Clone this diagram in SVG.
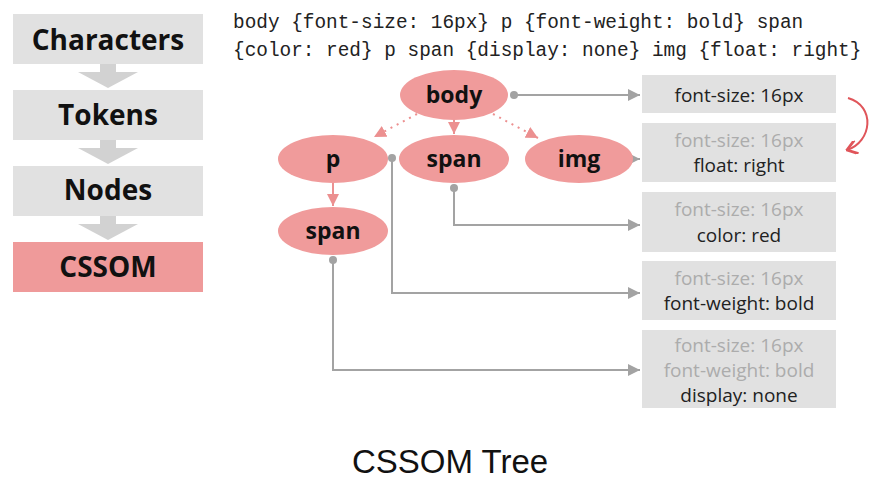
<svg xmlns="http://www.w3.org/2000/svg" width="893" height="501" viewBox="0 0 893 501">
<defs>
<marker id="ga" viewBox="0 0 10 10" refX="10" refY="5" markerWidth="12" markerHeight="12" markerUnits="userSpaceOnUse" orient="auto"><path d="M0,0L10,5L0,10z" fill="#a3a3a3"/></marker>
<marker id="pa" viewBox="0 0 10 10" refX="10" refY="5" markerWidth="12" markerHeight="12" markerUnits="userSpaceOnUse" orient="auto"><path d="M0,0L10,5L0,10z" fill="#ec9090"/></marker>
<marker id="ra" viewBox="0 0 10 10" refX="9" refY="5" markerWidth="14" markerHeight="14" markerUnits="userSpaceOnUse" orient="auto"><path d="M2,0L9,5L2,10" fill="none" stroke="#e0555a" stroke-width="2"/></marker>
</defs>
<style>
.stage{fill:#e1e1e1}
.stxt{font-family:"Open Sans","Noto Sans",sans-serif;font-weight:bold;font-size:28px;fill:#111;text-anchor:middle}
.chev{fill:#d2d2d2}
.code{font-family:"Liberation Mono","DejaVu Sans Mono",monospace;font-size:19.4px;fill:#222}
.node{fill:#f09b9b}
.ntxt{font-family:"Open Sans","Noto Sans",sans-serif;font-weight:bold;font-size:23px;fill:#111;text-anchor:middle}
.box{fill:#e1e1e1}
.btxt{font-family:"Open Sans","Noto Sans",sans-serif;font-size:19px;fill:#222;text-anchor:middle}
.dim{fill:#acacac}
.gl{fill:none;stroke:#a3a3a3;stroke-width:2}
.pl{fill:none;stroke:#ec9090;stroke-width:2}
.dot{fill:#a3a3a3}
</style>
<rect width="893" height="501" fill="#ffffff"/>

<g id="pipeline">
<g id="stage-characters"><rect class="stage" x="13" y="14" width="190" height="50"/><text class="stxt" x="108" y="50">Characters</text></g>
<path class="chev" d="M100,64H116V72H138L108,88L78,72H100Z"/>
<g id="stage-tokens"><rect class="stage" x="13" y="90" width="190" height="50"/><text class="stxt" x="108" y="125">Tokens</text></g>
<path class="chev" d="M100,140H116V148H138L108,164L78,148H100Z"/>
<g id="stage-nodes"><rect class="stage" x="13" y="166" width="190" height="50"/><text class="stxt" x="108" y="200">Nodes</text></g>
<path class="chev" d="M100,216H116V224H138L108,240L78,224H100Z"/>
<g id="stage-cssom"><rect x="13" y="242" width="190" height="50" fill="#ef9a9a"/><text class="stxt" x="108" y="277">CSSOM</text></g>
</g>

<g id="code">
<text class="code" x="233" y="28">body {font-size: 16px} p {font-weight: bold} span</text>
<text class="code" x="233" y="56">{color: red} p span {display: none} img {float: right}</text>
</g>

<g id="connectors">
<path class="pl" d="M417,114L374,137" stroke-dasharray="2,5" marker-end="url(#pa)"/>
<path class="pl" d="M493,114L538,138" stroke-dasharray="2,5" marker-end="url(#pa)"/>
<path class="pl" d="M454,120V134" marker-end="url(#pa)"/>
<path class="pl" d="M333,183V206" marker-end="url(#pa)"/>
<circle class="dot" cx="514" cy="95" r="4"/>
<path class="gl" d="M514,95H640" marker-end="url(#ga)"/>
<path class="gl" d="M632,159H640" marker-end="url(#ga)"/>
<circle class="dot" cx="454" cy="188" r="4"/>
<path class="gl" d="M454,188V225H640" marker-end="url(#ga)"/>
<circle class="dot" cx="392" cy="158" r="4"/>
<path class="gl" d="M392,158V293H640" marker-end="url(#ga)"/>
<circle class="dot" cx="333" cy="260" r="4"/>
<path class="gl" d="M333,260V370H640" marker-end="url(#ga)"/>
<path d="M848,98C876,106 872,142 847,150" fill="none" stroke="#e0555a" stroke-width="2" marker-end="url(#ra)"/>
</g>

<g id="node-body"><ellipse class="node" cx="454" cy="95" rx="54" ry="25"/><text class="ntxt" x="454" y="103">body</text></g>
<g id="node-p"><ellipse class="node" cx="333" cy="159" rx="55" ry="24"/><text class="ntxt" x="333" y="167">p</text></g>
<g id="node-span"><ellipse class="node" cx="454" cy="159" rx="55" ry="24"/><text class="ntxt" x="454" y="167">span</text></g>
<g id="node-img"><ellipse class="node" cx="579" cy="159" rx="54" ry="24"/><text class="ntxt" x="579" y="167">img</text></g>
<g id="node-p-span"><ellipse class="node" cx="333" cy="231" rx="55" ry="24"/><text class="ntxt" x="333" y="239">span</text></g>

<g id="style-body"><rect class="box" x="642" y="75" width="194" height="38"/><text class="btxt" x="739" y="102">font-size: 16px</text></g>
<g id="style-img"><rect class="box" x="642" y="123" width="194" height="59"/><text class="btxt dim" x="739" y="147">font-size: 16px</text><text class="btxt" x="739" y="172">float: right</text></g>
<g id="style-span"><rect class="box" x="642" y="192" width="194" height="60"/><text class="btxt dim" x="739" y="216">font-size: 16px</text><text class="btxt" x="739" y="242">color: red</text></g>
<g id="style-p"><rect class="box" x="642" y="261" width="194" height="59"/><text class="btxt dim" x="739" y="285">font-size: 16px</text><text class="btxt" x="739" y="310">font-weight: bold</text></g>
<g id="style-p-span"><rect class="box" x="642" y="330" width="194" height="78"/><text class="btxt dim" x="739" y="352">font-size: 16px</text><text class="btxt dim" x="739" y="377">font-weight: bold</text><text class="btxt" x="739" y="402">display: none</text></g>

<text x="450" y="473" font-family="Liberation Sans, Arial, sans-serif" font-size="33" fill="#111" text-anchor="middle">CSSOM Tree</text>
</svg>
